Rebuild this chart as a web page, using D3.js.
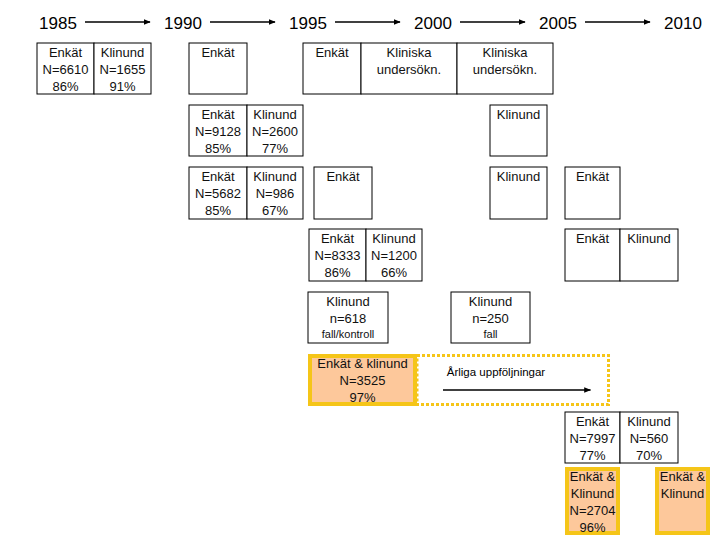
<!DOCTYPE html>
<html><head><meta charset="utf-8">
<script src="https://cdn.jsdelivr.net/npm/d3@7"></script>
<style>body{margin:0;background:#fff}svg{font-family:"Liberation Sans",Arial,sans-serif}</style>
</head><body><svg id="c" width="720" height="540"></svg>
<script>
const years=[1985,1990,1995,2000,2005,2010];
// rows: [top,bottom] in row units
const rows=[[43,94],[105,156],[167,219],[229,281],[292,343],[354,406],[412,463],[467,535]];
// boxes: row, edges (years), cells text, style
const boxes=[
 {r:0,e:[1984.16,1986.44,1988.72],c:[["Enkät","N=6610","86%"],["Klinund","N=1655","91%"]]},
 {r:0,e:[1990.24,1992.56],c:[["Enkät"]]},
 {r:0,e:[1994.8,1997.12,2000.96,2004.8],c:[["Enkät"],["Kliniska","undersökn."],["Kliniska","undersökn."]]},
 {r:1,e:[1990.24,1992.56,1994.8],c:[["Enkät","N=9128","85%"],["Klinund","N=2600","77%"]]},
 {r:1,e:[2002.28,2004.56],c:[["Klinund"]]},
 {r:2,e:[1990.24,1992.56,1994.8],c:[["Enkät","N=5682","85%"],["Klinund","N=986","67%"]]},
 {r:2,e:[1995.24,1997.56],c:[["Enkät"]]},
 {r:2,e:[2002.28,2004.56],c:[["Klinund"]]},
 {r:2,e:[2005.28,2007.48],c:[["Enkät"]]},
 {r:3,e:[1995.04,1997.32,1999.56],c:[["Enkät","N=8333","86%"],["Klinund","N=1200","66%"]]},
 {r:3,e:[2005.28,2007.48,2009.8],c:[["Enkät"],["Klinund"]]},
 {r:4,e:[1995,1998.2],c:[["Klinund","n=618","fall/kontroll"]]},
 {r:4,e:[2000.72,2003.88],c:[["Klinund","n=250","fall"]]},
 {r:5,e:[1995,1999.36],c:[["Enkät & klinund","N=3525","97%"]],o:true},
 {r:6,e:[2005.28,2007.48,2009.8],c:[["Enkät","N=7997","77%"],["Klinund","N=560","70%"]]},
 {r:7,e:[2005.28,2007.48],c:[["Enkät &","Klinund","N=2704","96%"]],o:true},
 {r:7,e:[2008.88,2011.08],c:[["Enkät &","Klinund"]],o:true}
];
const followText="Årliga uppföljningar";
const x=d3.scaleLinear().domain([1985,2010]).range([58,683]);
const svg=d3.select("#c");
const defs=svg.append("defs");
defs.append("marker").attr("id","ah").attr("viewBox","0 0 10 10").attr("refX",9).attr("refY",5)
 .attr("markerWidth",7).attr("markerHeight",7).attr("markerUnits","userSpaceOnUse").attr("orient","auto")
 .append("path").attr("d","M0,1L10,5L0,9Z").attr("fill","#000");
// years
svg.selectAll("text.yr").data(years).join("text").attr("x",d=>x(d)).attr("y",29)
 .attr("text-anchor","middle").attr("font-size",17).text(d=>d);
svg.selectAll("line.ya").data(d3.pairs(years)).join("line")
 .attr("x1",d=>x(d[0])+27).attr("x2",d=>x(d[1])-33).attr("y1",22).attr("y2",22)
 .attr("stroke","#000").attr("stroke-width",1.5).attr("marker-end","url(#ah)");
// dashed follow-up
const fr=rows[5];
svg.append("rect").attr("x",x(1999.36)).attr("y",fr[0]+1.5).attr("width",x(2007.08)-x(1999.36)-1.5).attr("height",fr[1]-fr[0]-3)
 .attr("fill","none").attr("stroke","#f5c518").attr("stroke-width",3).attr("stroke-dasharray","3,2");
svg.append("text").attr("x",x(2000.55)).attr("y",fr[0]+22).attr("font-size",11.5).text(followText);
svg.append("line").attr("x1",x(2000.4)).attr("x2",x(2006.3)).attr("y1",fr[0]+36).attr("y2",fr[0]+36)
 .attr("stroke","#000").attr("stroke-width",1.5).attr("marker-end","url(#ah)");
// boxes
boxes.forEach(b=>{
 const [t,bt]=rows[b.r];
 b.c.forEach((cell,i)=>{
  const x0=x(b.e[i]),x1=x(b.e[i+1]);
  if(b.o){
   svg.append("rect").attr("x",x0+2).attr("y",t+2).attr("width",x1-x0-4).attr("height",bt-t-4)
    .attr("fill","#fdc89b").attr("stroke","#f5c518").attr("stroke-width",4);
  } else {
   svg.append("rect").attr("x",x0).attr("y",t).attr("width",x1-x0).attr("height",bt-t)
    .attr("fill","#fff").attr("stroke","#000").attr("stroke-width",1);
  }
  cell.forEach((s,j)=>{
   const small=(s==="fall/kontroll"||s==="fall");
   svg.append("text").attr("x",(x0+x1)/2).attr("y",t+14+j*17+(small?-2:0))
    .attr("text-anchor","middle").attr("font-size",small?11:13).attr("fill","#111").text(s);
  });
 });
});
</script></body></html>
